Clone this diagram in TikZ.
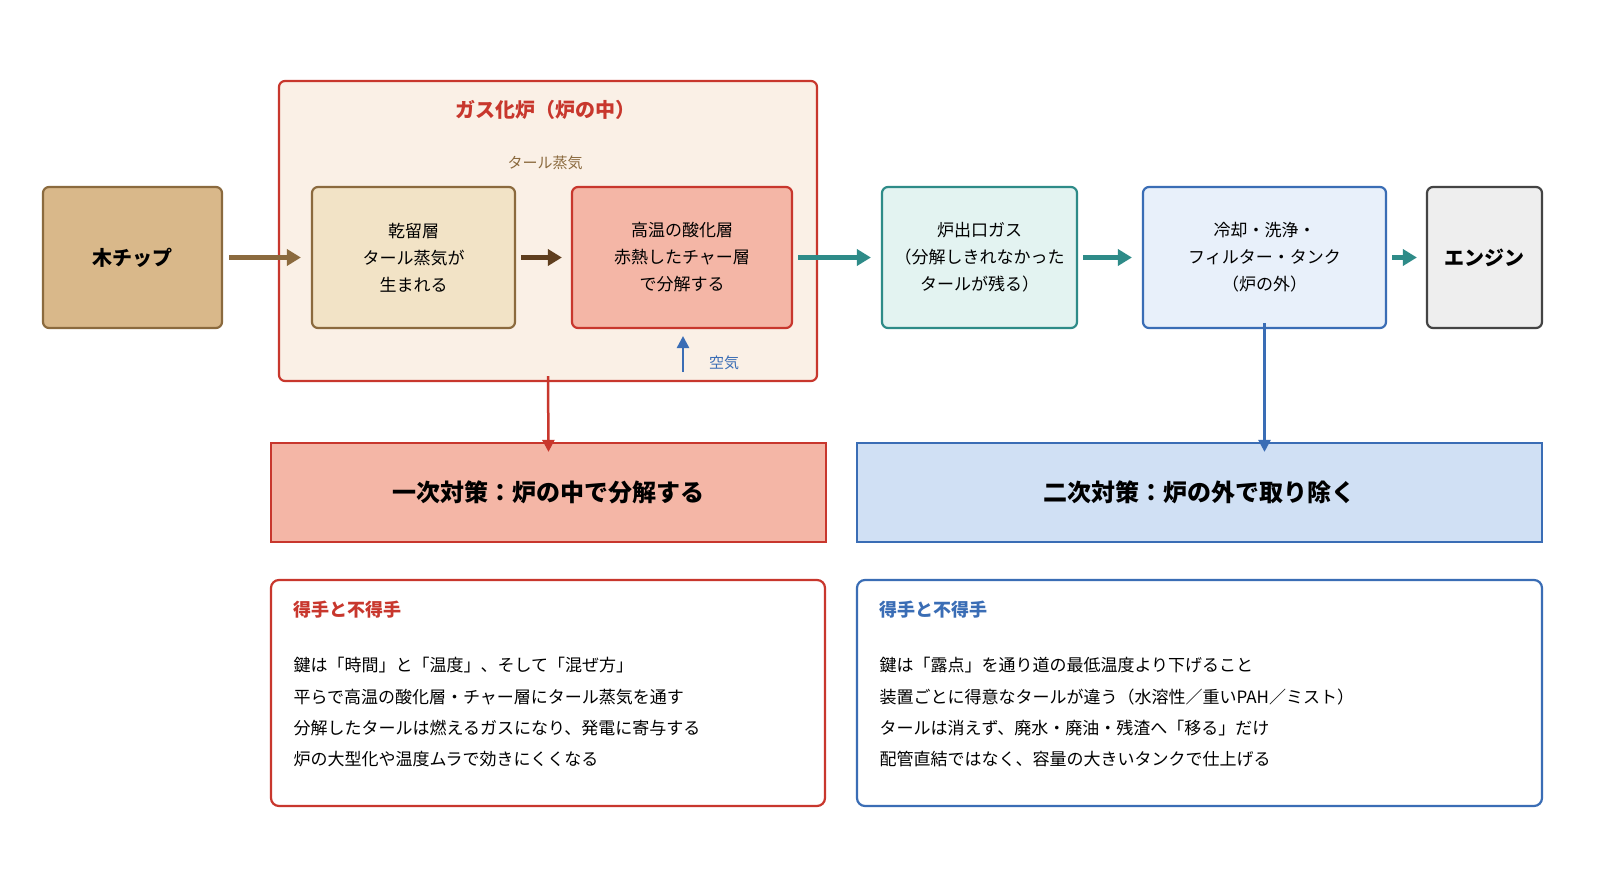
\documentclass[tikz,border=0pt]{standalone}
\usepackage{fontspec}
\setmainfont{Noto Sans CJK JP}
\usetikzlibrary{arrows.meta}
\definecolor{red1}{HTML}{C8372D}
\definecolor{brn}{HTML}{8B6A3E}
\definecolor{teal1}{HTML}{2E8B88}
\definecolor{blue1}{HTML}{3A6DB5}
\definecolor{chipc}{HTML}{D9B88A}
\begin{document}
\begin{tikzpicture}[x=1pt,y=-1pt,
 box/.style={draw,line width=2.2pt,rounded corners=6pt,align=center,font=\fontsize{17}{27}\selectfont},
 arr/.style={line width=4.5pt,-{Triangle[length=14pt,width=16pt]}},
 thin arr/.style={line width=2.5pt,-{Triangle[length=12pt,width=12pt]}},
 body/.style={anchor=west,font=\fontsize{17}{20}\selectfont}]
\useasboundingbox (0,0) rectangle (1600,888);
\fill[white] (0,0) rectangle (1600,888);
\node[box,draw=brn,fill=chipc,minimum width=179pt,minimum height=141pt,font=\fontsize{20}{24}\selectfont\bfseries] (chip) at (132.5,257.5) {木チップ};
\node[box,draw=red1,fill={rgb,255:red,250;green,240;blue,230},minimum width=538pt,minimum height=300pt] (gas) at (548,231) {};
\node[text=red1,font=\fontsize{20}{24}\selectfont\bfseries] (gt) at (545,110) {ガス化炉（炉の中）};
\node[text=brn,font=\fontsize{15}{18}\selectfont] (tv) at (545,163) {タール蒸気};
\node[box,draw=brn,fill={rgb,255:red,242;green,227;blue,198},minimum width=203pt,minimum height=141pt] (dry) at (413.5,257.5) {乾留層\\タール蒸気が\\生まれる};
\node[box,draw=red1,fill={rgb,255:red,244;green,182;blue,166},minimum width=220pt,minimum height=141pt] (hot) at (682,257.5) {高温の酸化層\\赤熱したチャー層\\で分解する};
\node[box,draw=teal1,fill={rgb,255:red,227;green,243;blue,241},minimum width=195pt,minimum height=141pt] (out) at (979.5,257.5) {炉出口ガス\\（分解しきれなかった\\タールが残る）};
\node[box,draw=blue1,fill={rgb,255:red,232;green,240;blue,250},minimum width=243pt,minimum height=141pt] (cool) at (1264.5,257.5) {冷却・洗浄・\\フィルター・タンク\\（炉の外）};
\node[box,draw={rgb,255:red,68;green,68;blue,68},fill={rgb,255:red,238;green,238;blue,238},minimum width=115pt,minimum height=141pt,font=\fontsize{20}{24}\selectfont\bfseries] (eng) at (1484.5,257.5) {エンジン};
\coordinate (a0) at (683,372); \coordinate (a1) at (683,336);
\draw[thin arr,draw=blue1,fill=blue1] (a0) -- (a1);
\node[text=blue1,font=\fontsize{15}{18}\selectfont] (air) at (724,363) {空気};
\draw[arr,draw=brn] ([xshift=6pt]chip.east) -- ([xshift=-10pt]dry.west);
\draw[arr,draw={rgb,255:red,95;green,62;blue,30}] ([xshift=5pt]dry.east) -- ([xshift=-9pt]hot.west);
\draw[arr,draw=teal1] ([xshift=5pt]hot.east) -- ([xshift=-10pt]out.west);
\draw[arr,draw=teal1] ([xshift=5pt]out.east) -- ([xshift=-10pt]cool.west);
\draw[arr,draw=teal1] ([xshift=5pt]cool.east) -- ([xshift=-9pt]eng.west);
\node[draw=red1,line width=2.2pt,fill={rgb,255:red,244;green,182;blue,166},minimum width=555pt,minimum height=99pt,font=\fontsize{24}{28}\selectfont\bfseries] (p1) at (548.5,492.5) {一次対策：炉の中で分解する};
\node[draw=blue1,line width=2.2pt,fill={rgb,255:red,208;green,224;blue,244},minimum width=685pt,minimum height=99pt,font=\fontsize{24}{28}\selectfont\bfseries] (p2) at (1199.5,492.5) {二次対策：炉の外で取り除く};
\draw[thin arr,draw=red1] ([yshift=6pt]gas.south) -- ([yshift=-10pt]p1.north);
\draw[thin arr,draw=blue1] ([yshift=6pt]cool.south) -- ([yshift=-10pt]cool.south |- p2.north);
\node[draw=red1,line width=2.2pt,rounded corners=8pt,fill=white,minimum width=554pt,minimum height=226pt] (b1) at (548,693) {};
\node[draw=blue1,line width=2.2pt,rounded corners=8pt,fill=white,minimum width=685pt,minimum height=226pt] (b2) at (1199.5,693) {};
\node[body,text=red1,font=\fontsize{18}{20}\selectfont\bfseries] (h1) at (290,610) {得手と不得手};
\node[body] (l11) at (290,665) {鍵は「時間」と「温度」、そして「混ぜ方」};
\node[body] (l12) at (290,697) {平らで高温の酸化層・チャー層にタール蒸気を通す};
\node[body] (l13) at (290,728) {分解したタールは燃えるガスになり、発電に寄与する};
\node[body] (l14) at (290,759) {炉の大型化や温度ムラで効きにくくなる};
\node[body,text=blue1,font=\fontsize{18}{20}\selectfont\bfseries] (h2) at (876,610) {得手と不得手};
\node[body] (l21) at (876,665) {鍵は「露点」を通り道の最低温度より下げること};
\node[body] (l22) at (876,697) {装置ごとに得意なタールが違う（水溶性／重いPAH／ミスト）};
\node[body] (l23) at (876,728) {タールは消えず、廃水・廃油・残渣へ「移る」だけ};
\node[body] (l24) at (876,759) {配管直結ではなく、容量の大きいタンクで仕上げる};
\end{tikzpicture}
\end{document}
